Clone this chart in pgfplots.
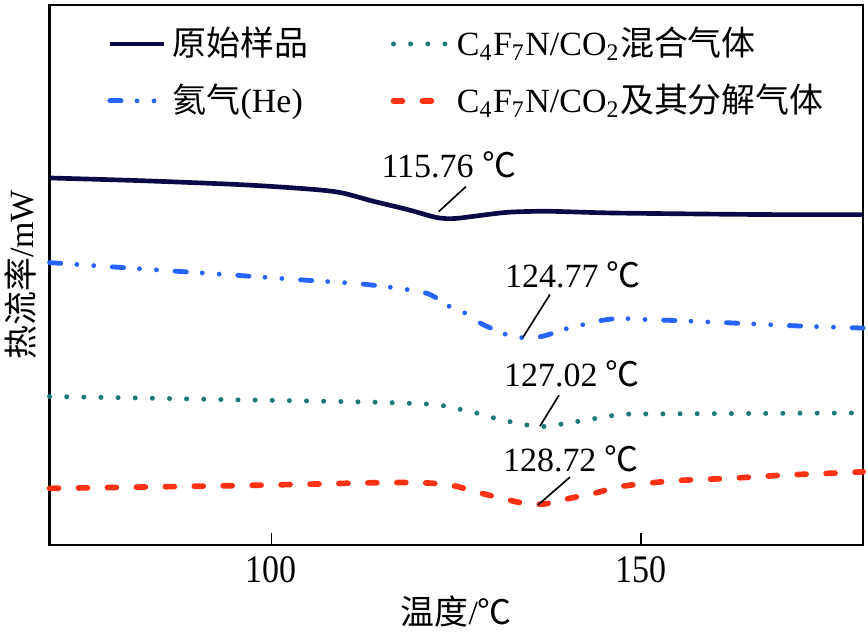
\documentclass[border=0pt]{standalone}
\usepackage{fontspec}
\setmainfont{Liberation Serif}
\newfontfamily\cjk{Noto Sans CJK SC}
\usepackage{pgfplots}
\pgfplotsset{compat=1.18}
\definecolor{navy}{RGB}{10,10,70}
\definecolor{heblue}{RGB}{40,100,255}
\definecolor{teal2}{RGB}{30,120,120}
\definecolor{redor}{RGB}{255,50,20}

% pixel-derived heat flow offsets (arbitrary units)
\pgfplotstableread{
x y
70.00 367.7
82.25 365.0
95.80 361.0
104.88 356.7
109.35 353.0
113.82 344.3
118.43 336.0
121.95 328.7
123.58 327.0
125.20 327.3
127.37 329.3
131.98 333.3
137.40 334.3
145.53 332.7
156.78 331.7
168.02 331.0
180.00 331.0
}\raw
\pgfplotstableread{
x y
70.00 282.9
79.13 278.3
87.67 274.0
96.21 269.7
104.61 265.3
112.47 261.3
120.19 253.7
122.49 246.7
123.98 239.3
126.29 232.0
128.32 222.0
130.08 216.0
132.38 209.3
135.09 207.3
137.13 210.0
139.57 216.0
142.14 220.7
144.17 224.3
146.88 227.0
150.00 226.0
155.15 224.7
163.55 222.0
171.68 219.3
180.00 217.3
}\helium
\pgfplotstableread{
x y
70.00 148.7
81.84 147.3
93.36 145.7
104.88 144.3
114.09 143.0
120.87 141.3
122.90 140.0
124.93 136.7
126.96 133.7
130.76 126.0
134.69 120.0
136.86 118.7
139.16 121.0
143.22 126.0
147.29 130.7
151.76 131.3
163.55 131.7
180.00 132.3
}\mix
\pgfplotstableread{
x y
70.00 56.7
82.25 58.0
94.04 59.3
105.69 61.0
113.82 62.3
120.60 62.3
124.66 59.3
127.37 53.7
130.62 47.7
134.01 42.0
136.86 41.0
140.51 47.0
144.17 52.7
147.29 58.7
154.47 64.3
161.79 66.7
169.38 70.0
177.10 72.3
180.00 73.3
}\decomp

\begin{document}
\fontsize{10.2}{12}\selectfont
\begin{tikzpicture}
\begin{axis}[
    scale only axis, width=244.5pt, height=162.3pt,
    xmin=70, xmax=180, ymin=0, ymax=541,
    xtick={100,150}, ytick=\empty,
    xtick pos=bottom, tick align=inside, major tick length=3.6pt,
    axis line style={line width=0.75pt}, tick style={line width=0.5pt, black},
    /pgf/number format/assume math mode=true,
    xticklabel={\scalebox{1}[1.15]{\pgfmathprintnumber{\tick}}},
    xlabel={{\cjk 温度}/{\cjk ℃}},
    ylabel={{\cjk 热流率}/mW},
    xlabel style={at={(axis description cs:0.5,0)}, anchor=north, yshift=-13pt, inner ysep=2pt},
    ylabel style={at={(axis description cs:-0.009,0.5)}, anchor=south, inner ysep=1.5pt},
    clip=false,
    legend columns=2, legend cell align=left,
    legend style={draw=none, fill=none, at={(axis description cs:0.058,0.985)}, anchor=north west,
        row sep=3pt, /tikz/every even column/.append style={column sep=22.7pt}},
    legend image code/.code={\draw[#1] (0pt,0pt) -- (16.2pt,0pt);},
  ]
  \addplot[navy, line width=1.4pt, smooth, tension=0.5] table {\raw};
  \addlegendentry{{\cjk 原始样品}}
  \addplot[teal2, line width=1.5pt, line cap=round, dash pattern=on 0pt off 5.15pt, smooth, tension=0.5] table {\mix};
  \addlegendentry{C\textsubscript{4}F\textsubscript{7}N/CO\textsubscript{2}{\cjk 混合气体}}
  \addplot[heblue, line width=1.45pt, line cap=round, dash pattern=on 3.4pt off 4.8pt on 0pt off 5.1pt on 0pt off 5.6pt, smooth, tension=0.5] table {\helium};
  \addlegendentry{{\cjk 氦气}(He)}
  \addplot[redor, line width=1.7pt, line cap=round, dash pattern=on 2.7pt off 6pt, smooth, tension=0.5] table {\decomp};
  \addlegendentry{C\textsubscript{4}F\textsubscript{7}N/CO\textsubscript{2}{\cjk 及其分解气体}}

  \node at (axis cs:123.98,381) {115.76 {\cjk ℃}};
  \draw[line width=0.5pt] (axis cs:126.29,359) -- (axis cs:122.63,334);
  \node at (axis cs:140.79,271) {124.77 {\cjk ℃}};
  \draw[line width=0.5pt] (axis cs:137.67,251) -- (axis cs:134.01,208);
  \node at (axis cs:140.65,171) {127.02 {\cjk ℃}};
  \draw[line width=0.5pt] (axis cs:138.89,150) -- (axis cs:136.31,119);
  \node at (axis cs:140.51,86) {128.72 {\cjk ℃}};
  \draw[line width=0.5pt] (axis cs:140.38,68) -- (axis cs:136.04,40);
  \coordinate (tr) at (rel axis cs:1,1);
\end{axis}
\path (tr) ++(1.5pt,1.5pt);
\end{tikzpicture}
\end{document}
